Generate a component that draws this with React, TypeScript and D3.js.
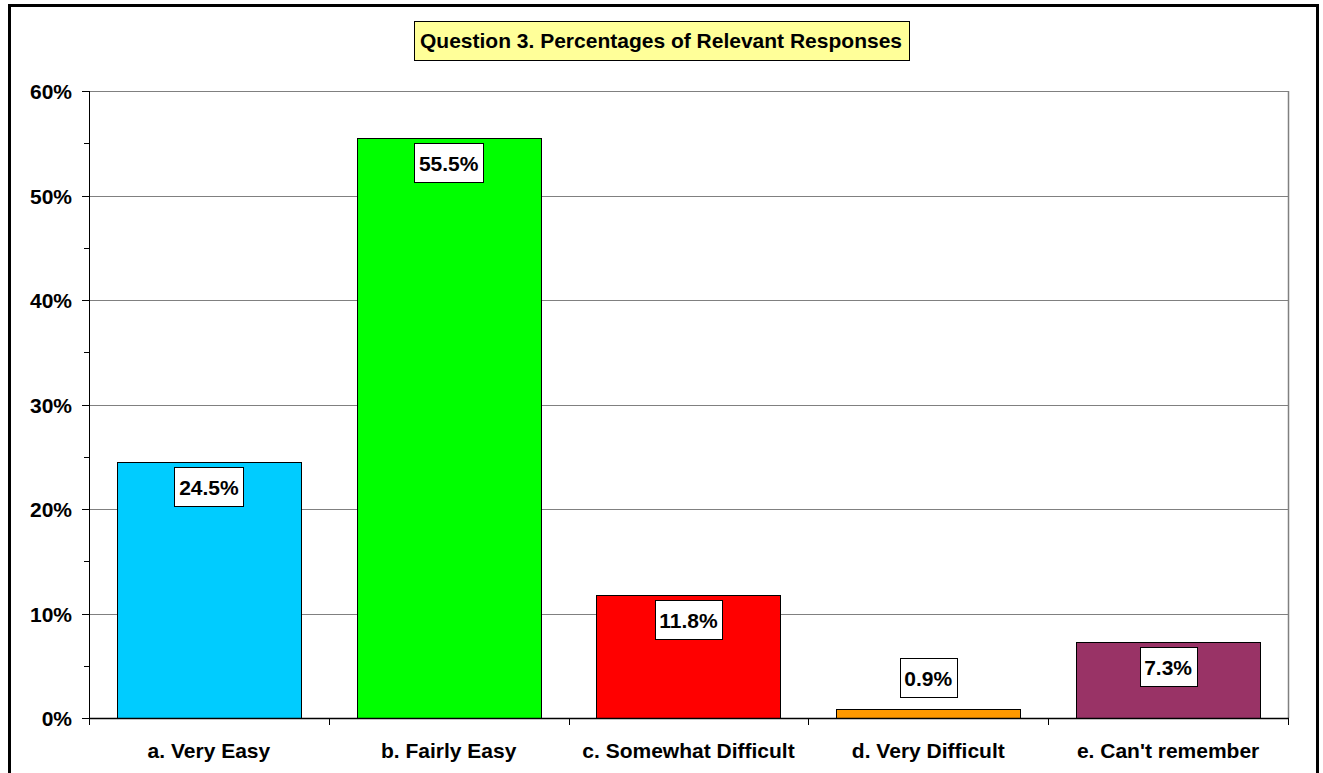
import React, { useRef, useEffect } from "react";
import * as d3 from "d3";

const categories = [
  "a. Very Easy",
  "b. Fairly Easy",
  "c. Somewhat Difficult",
  "d. Very Difficult",
  "e. Can't remember",
];
const values = [24.5, 55.5, 11.8, 0.9, 7.3];
const colors = ["#00CCFF", "#00FF00", "#FF0000", "#FF9900", "#993366"];
const yTicks = [0, 10, 20, 30, 40, 50, 60];
const yMinorTicks = [5, 15, 25, 35, 45, 55];
const title = "Question 3. Percentages of Relevant Responses";

const W = 1323;
const H = 773;
const FONT = "'Liberation Sans', Arial, sans-serif";
const FS = 21;

const App = () => {
  const ref = useRef<SVGSVGElement>(null);

  useEffect(() => {
    const svg = d3.select(ref.current);
    svg.selectAll("*").remove();

    const left = 89, right = 1288, top = 91, bottom = 718;

    const x = d3
      .scaleBand()
      .domain(categories)
      .range([left, right])
      .paddingInner(0.232)
      .paddingOuter(0.116);
    const step = (right - left) / categories.length;
    const y = d3.scaleLinear().domain([0, 60]).range([bottom, top]);

    // chart area border
    svg
      .append("rect")
      .attr("x", 9.5)
      .attr("y", 5.5)
      .attr("width", 1308)
      .attr("height", 820)
      .attr("fill", "#fff")
      .attr("stroke", "#000")
      .attr("stroke-width", 3);

    // gridlines
    svg
      .append("g")
      .selectAll("line")
      .data(yTicks.filter((d) => d > 0))
      .join("line")
      .attr("x1", left)
      .attr("x2", right)
      .attr("y1", (d) => Math.round(y(d)) + 0.5)
      .attr("y2", (d) => Math.round(y(d)) + 0.5)
      .attr("stroke", "#808080")
      .attr("stroke-width", 1);

    // plot right border
    svg
      .append("line")
      .attr("x1", right + 0.5)
      .attr("x2", right + 0.5)
      .attr("y1", top)
      .attr("y2", bottom)
      .attr("stroke", "#808080")
      .attr("stroke-width", 1.5);

    // bars
    svg
      .append("g")
      .selectAll("rect")
      .data(values)
      .join("rect")
      .attr("x", (d, i) => Math.round(x(categories[i])!) + 0.5)
      .attr("y", (d) => Math.round(y(d)) + 0.5)
      .attr("width", Math.round(x.bandwidth()))
      .attr("height", (d) => bottom - Math.round(y(d)))
      .attr("fill", (d, i) => colors[i])
      .attr("stroke", "#000")
      .attr("stroke-width", 1);

    // y axis
    const ya = svg.append("g");
    ya.append("line")
      .attr("x1", left + 0.5)
      .attr("x2", left + 0.5)
      .attr("y1", top)
      .attr("y2", bottom)
      .attr("stroke", "#000");
    ya.selectAll("line.maj")
      .data(yTicks)
      .join("line")
      .attr("class", "maj")
      .attr("x1", left - 7)
      .attr("x2", left)
      .attr("y1", (d) => Math.round(y(d)) + 0.5)
      .attr("y2", (d) => Math.round(y(d)) + 0.5)
      .attr("stroke", "#000");
    ya.selectAll("line.min")
      .data(yMinorTicks)
      .join("line")
      .attr("class", "min")
      .attr("x1", left - 5)
      .attr("x2", left)
      .attr("y1", (d) => Math.round(y(d)) + 0.5)
      .attr("y2", (d) => Math.round(y(d)) + 0.5)
      .attr("stroke", "#000");
    ya.selectAll("text")
      .data(yTicks)
      .join("text")
      .attr("x", 72)
      .attr("y", (d) => y(d) + 8)
      .attr("text-anchor", "end")
      .style("font", `bold ${FS}px ${FONT}`)
      .text((d) => `${d}%`);

    // x axis
    const xa = svg.append("g");
    xa.append("line")
      .attr("x1", left)
      .attr("x2", right + 1)
      .attr("y1", bottom + 0.5)
      .attr("y2", bottom + 0.5)
      .attr("stroke", "#000")
      .attr("stroke-width", 1.5);
    xa.selectAll("line.tk")
      .data(d3.range(categories.length + 1))
      .join("line")
      .attr("class", "tk")
      .attr("x1", (i) => Math.round(left + i * step) + 0.5)
      .attr("x2", (i) => Math.round(left + i * step) + 0.5)
      .attr("y1", bottom)
      .attr("y2", bottom + 7)
      .attr("stroke", "#000");
    xa.selectAll("text")
      .data(categories)
      .join("text")
      .attr("x", (d) => x(d)! + x.bandwidth() / 2)
      .attr("y", 758)
      .attr("text-anchor", "middle")
      .style("font", `bold ${FS}px ${FONT}`)
      .text((d) => d);

    // data labels
    const lg = svg.append("g");
    values.forEach((v, i) => {
      const cx = x(categories[i])! + x.bandwidth() / 2;
      const boxTop = Math.min(Math.round(y(v)) + 5, bottom - 60);
      const g = lg.append("g");
      const rect = g.append("rect");
      const t = g
        .append("text")
        .attr("x", cx)
        .attr("y", boxTop + 28)
        .attr("text-anchor", "middle")
        .style("font", `bold ${FS}px ${FONT}`)
        .text(`${v.toFixed(1)}%`);
      const tw = (t.node() as SVGTextElement).getComputedTextLength();
      const bw = Math.round(tw + 9);
      rect
        .attr("x", Math.round(cx - bw / 2) + 0.5)
        .attr("y", boxTop + 0.5)
        .attr("width", bw)
        .attr("height", 39)
        .attr("fill", "#fff")
        .attr("stroke", "#000");
    });

    // title box
    const tg = svg.append("g");
    const trect = tg.append("rect");
    const tt = tg
      .append("text")
      .attr("x", 661)
      .attr("y", 48)
      .attr("text-anchor", "middle")
      .style("font", `bold ${FS}px ${FONT}`)
      .text(title);
    const ttw = (tt.node() as SVGTextElement).getComputedTextLength();
    const tbw = Math.round(ttw + 13);
    trect
      .attr("x", Math.round(661 - tbw / 2) + 0.5)
      .attr("y", 21.5)
      .attr("width", tbw)
      .attr("height", 39)
      .attr("fill", "#FFFF99")
      .attr("stroke", "#000");
  }, []);

  return (
    <svg
      ref={ref}
      width={W}
      height={H}
      style={{ position: "absolute", left: 0, top: 0, background: "#fff" }}
    />
  );
};

export default App;
